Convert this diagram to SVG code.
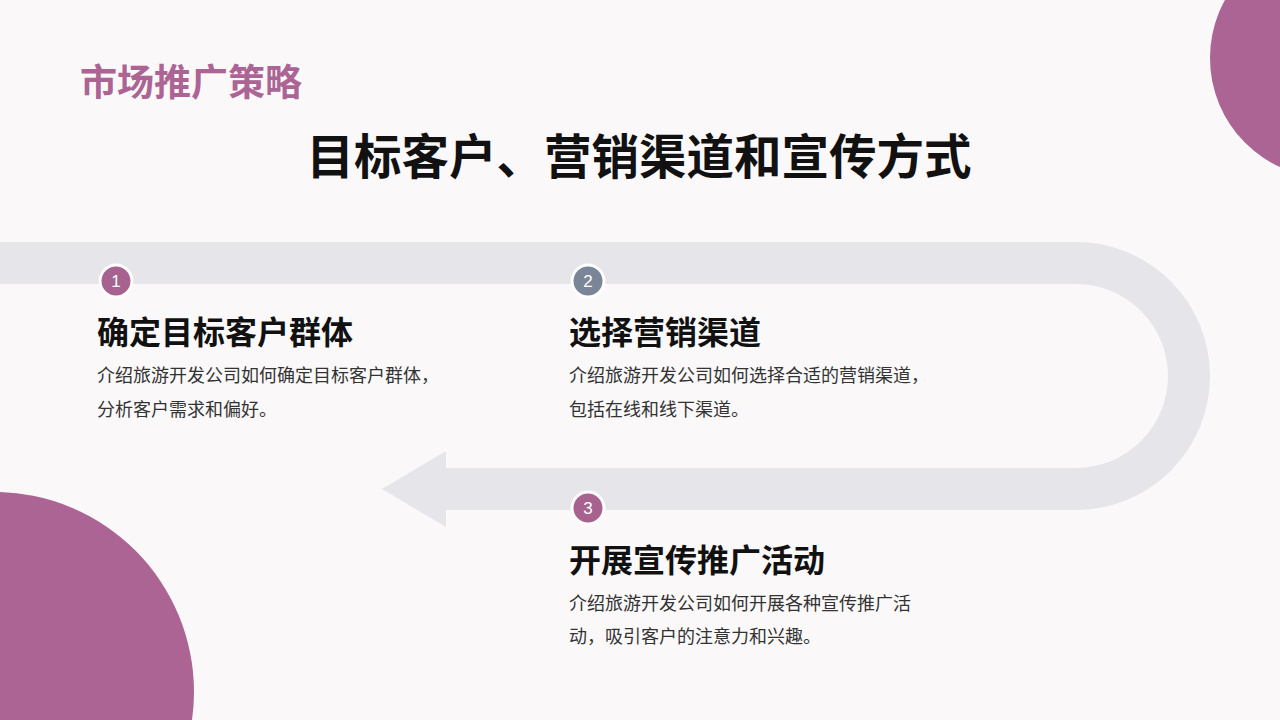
<svg xmlns="http://www.w3.org/2000/svg" width="1280" height="720" viewBox="0 0 1280 720">
<style>
.t{font-family:"Liberation Sans","Noto Sans CJK SC",sans-serif}
.h{font-size:32px;font-weight:bold;fill:#111}
.d{font-size:18px;fill:#333}
.n{font-size:17px;fill:#fff;text-anchor:middle}
.nc{stroke:#fff;stroke-width:3}
</style>
<rect width="1280" height="720" fill="#faf8f9"/>
<circle cx="1330" cy="58" r="120" fill="#ab6494"/>
<circle cx="-6" cy="692" r="200" fill="#ab6494"/>
<g id="connectors">
<path d="M0 263 H1076 A113 113 0 0 1 1076 489 H440" fill="none" stroke="#e6e5ea" stroke-width="42"/>
<polygon points="382,489 446,451 446,527" fill="#e6e5ea"/>
</g>
<text class="t" x="80" y="96" font-size="37" font-weight="bold" fill="#ab6494">市场推广策略</text>
<text class="t" x="639" y="174" font-size="47.5" font-weight="bold" fill="#111" text-anchor="middle">目标客户、营销渠道和宣传方式</text>
<g id="step1">
<circle class="nc" cx="116" cy="281" r="16" fill="#a8628f"/>
<text class="t n" x="116" y="287">1</text>
<text class="t h" x="97" y="344">确定目标客户群体</text>
<text class="t d" x="97" y="382">介绍旅游开发公司如何确定目标客户群体，</text>
<text class="t d" x="97" y="416">分析客户需求和偏好。</text>
</g>
<g id="step2">
<circle class="nc" cx="588" cy="281" r="16" fill="#7a8597"/>
<text class="t n" x="588" y="287">2</text>
<text class="t h" x="569" y="344">选择营销渠道</text>
<text class="t d" x="569" y="382">介绍旅游开发公司如何选择合适的营销渠道，</text>
<text class="t d" x="569" y="416">包括在线和线下渠道。</text>
</g>
<g id="step3">
<circle class="nc" cx="588" cy="508" r="16" fill="#a8628f"/>
<text class="t n" x="588" y="514">3</text>
<text class="t h" x="569" y="572">开展宣传推广活动</text>
<text class="t d" x="569" y="610">介绍旅游开发公司如何开展各种宣传推广活</text>
<text class="t d" x="569" y="643">动，吸引客户的注意力和兴趣。</text>
</g>
</svg>
